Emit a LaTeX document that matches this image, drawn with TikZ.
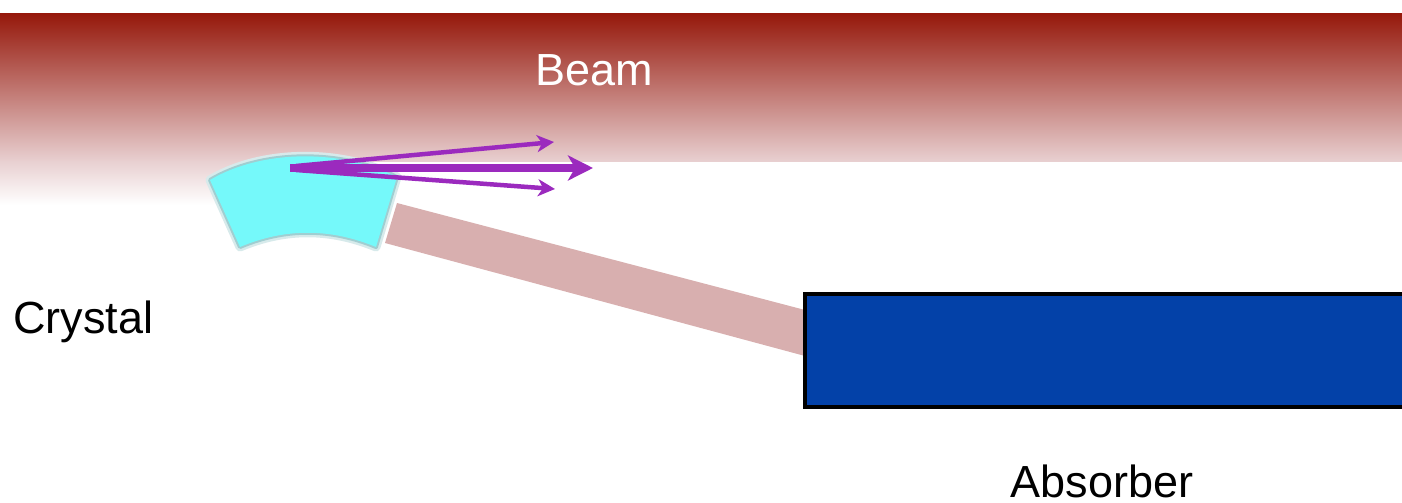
\documentclass[tikz,border=0pt]{standalone}
\usepackage{fontspec}
\setmainfont{Liberation Sans}
\usetikzlibrary{arrows.meta}
\definecolor{beamtop}{RGB}{150,25,12}
\definecolor{beambot}{RGB}{232,207,208}
\definecolor{crystalfill}{RGB}{117,249,250}
\definecolor{crystaledge}{RGB}{120,185,190}
\definecolor{channel}{RGB}{216,175,175}
\definecolor{absorberblue}{RGB}{3,65,168}
\definecolor{arrowpurple}{RGB}{155,42,190}
\tikzset{
  lbl/.style={inner sep=0pt, anchor=base, font=\fontsize{45}{50}\selectfont},
  sidearrow/.style={draw=arrowpurple, line width=4.5pt, -{Stealth[length=17pt,width=17pt,inset=5pt]}},
  mainarrow/.style={draw=arrowpurple, line width=7.5pt, -{Stealth[length=25pt,width=25pt,inset=7pt]}},
}
\begin{document}
\begin{tikzpicture}[x=1pt,y=-1pt]
\useasboundingbox (0,0) rectangle (1402,503);
\clip (0,0) rectangle (1402,503);
% beam
\shade[top color=beamtop, bottom color=beambot, middle color=beamtop!50!beambot] (0,14) rectangle (1402,161);
\shade[top color=beambot, bottom color=white] (0,160.5) rectangle (360,205);
% channeled band
\fill[channel] (397,203) -- (805,310) -- (805,356) -- (385,243) -- cycle;
% crystal (blurred look)
\path[draw=crystaledge!30, line width=9pt, line join=round]
  (210,180) .. controls (260,150) and (340,148) .. (397,177)
  -- (376,247) .. controls (330,228) and (285,228) .. (240,247) -- cycle;
\path[draw=crystaledge!70, line width=4pt, line join=round]
  (210,180) .. controls (260,150) and (340,148) .. (397,177)
  -- (376,247) .. controls (330,228) and (285,228) .. (240,247) -- cycle;
\path[fill=crystalfill]
  (210,180) .. controls (260,150) and (340,148) .. (397,177)
  -- (376,247) .. controls (330,228) and (285,228) .. (240,247) -- cycle;
% absorber
\node[draw=black, line width=4pt, fill=absorberblue, minimum width=640pt, minimum height=113pt, anchor=north west, inner sep=0pt] (absorber) at (803,292) {};
% arrows
\coordinate (src) at (290,168);
\coordinate (srcup) at (296,166);
\coordinate (srcdn) at (296,170);
\coordinate (tipup) at (554,142);
\coordinate (tipmid) at (593,168);
\coordinate (tipdn) at (555,189);
\draw[sidearrow] (srcup) -- (tipup);
\draw[sidearrow] (srcdn) -- (tipdn);
\draw[mainarrow] (src) -- (tipmid);
% labels
\node[lbl, text=white] (beam) at (594,85) {Beam};
\node[lbl, anchor=base west] (crystal) at (13,333) {Crystal};
\node[lbl] (absorberlabel) at (1102,497) {Absorber};
\end{tikzpicture}
\end{document}
